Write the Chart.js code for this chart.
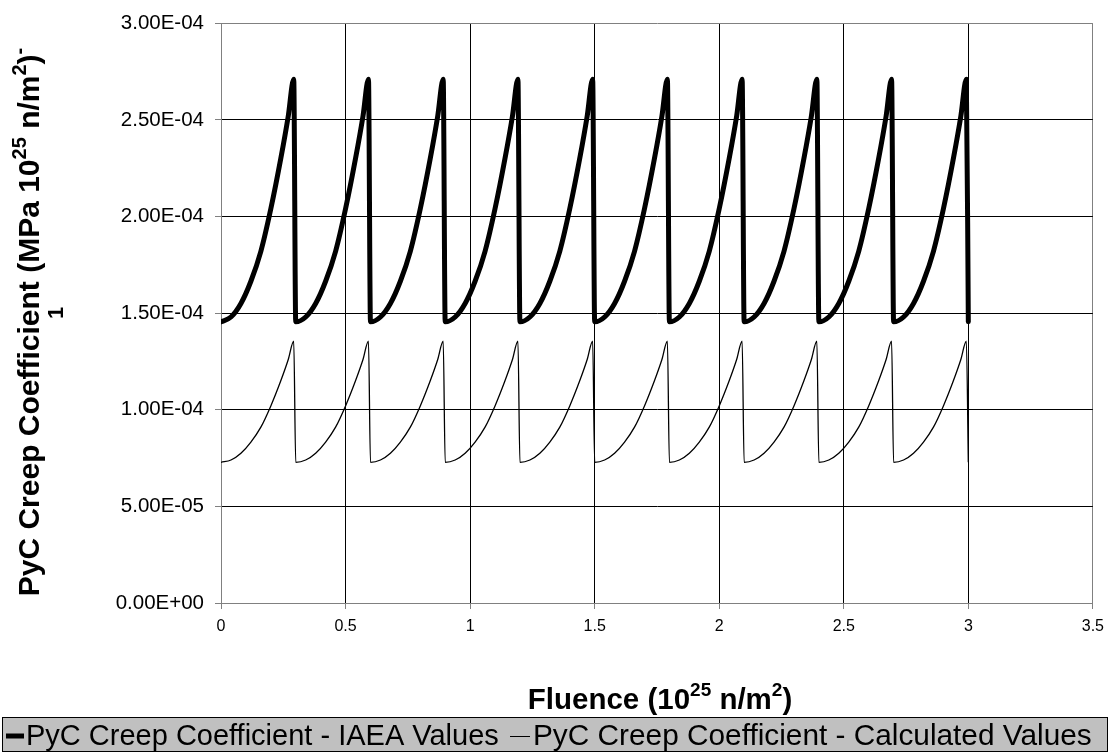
<!DOCTYPE html>
<html lang="en">
<head>
<meta charset="UTF-8">
<title>PyC Creep Coefficient</title>
<script src="https://cdn.jsdelivr.net/npm/chart.js"></script>
<style>
  html, body { margin: 0; padding: 0; background: #fff; }
  #wrap { width: 1112px; height: 752px; }
</style>
</head>
<body>
<div id="wrap"><canvas id="creepChart" width="1112" height="752"></canvas></div>
<script>
// fluence (10^25 n/m^2), one row per irradiation cycle
var fluence = [
  0.0, 0.04, 0.08, 0.12, 0.16, 0.2, 0.24, 0.27, 0.292,
  0.3, 0.34, 0.38, 0.42, 0.46, 0.5, 0.54, 0.57, 0.592,
  0.6, 0.64, 0.68, 0.72, 0.76, 0.8, 0.84, 0.87, 0.892,
  0.9, 0.94, 0.98, 1.02, 1.06, 1.1, 1.14, 1.17, 1.192,
  1.2, 1.24, 1.28, 1.32, 1.36, 1.4, 1.44, 1.47, 1.492,
  1.5, 1.54, 1.58, 1.62, 1.66, 1.7, 1.74, 1.77, 1.792,
  1.8, 1.84, 1.88, 1.92, 1.96, 2.0, 2.04, 2.07, 2.092,
  2.1, 2.14, 2.18, 2.22, 2.26, 2.3, 2.34, 2.37, 2.392,
  2.4, 2.44, 2.48, 2.52, 2.56, 2.6, 2.64, 2.67, 2.692,
  2.7, 2.74, 2.78, 2.82, 2.86, 2.9, 2.94, 2.97, 2.992,
  3.0
];

var iaeaValues = [
  1.455e-4, 1.48e-4, 1.55e-4, 1.665e-4, 1.82e-4, 2.04e-4, 2.30e-4, 2.52e-4, 2.71e-4,
  1.455e-4, 1.48e-4, 1.55e-4, 1.665e-4, 1.82e-4, 2.04e-4, 2.30e-4, 2.52e-4, 2.71e-4,
  1.455e-4, 1.48e-4, 1.55e-4, 1.665e-4, 1.82e-4, 2.04e-4, 2.30e-4, 2.52e-4, 2.71e-4,
  1.455e-4, 1.48e-4, 1.55e-4, 1.665e-4, 1.82e-4, 2.04e-4, 2.30e-4, 2.52e-4, 2.71e-4,
  1.455e-4, 1.48e-4, 1.55e-4, 1.665e-4, 1.82e-4, 2.04e-4, 2.30e-4, 2.52e-4, 2.71e-4,
  1.455e-4, 1.48e-4, 1.55e-4, 1.665e-4, 1.82e-4, 2.04e-4, 2.30e-4, 2.52e-4, 2.71e-4,
  1.455e-4, 1.48e-4, 1.55e-4, 1.665e-4, 1.82e-4, 2.04e-4, 2.30e-4, 2.52e-4, 2.71e-4,
  1.455e-4, 1.48e-4, 1.55e-4, 1.665e-4, 1.82e-4, 2.04e-4, 2.30e-4, 2.52e-4, 2.71e-4,
  1.455e-4, 1.48e-4, 1.55e-4, 1.665e-4, 1.82e-4, 2.04e-4, 2.30e-4, 2.52e-4, 2.71e-4,
  1.455e-4, 1.48e-4, 1.55e-4, 1.665e-4, 1.82e-4, 2.04e-4, 2.30e-4, 2.52e-4, 2.71e-4,
  1.455e-4
];

var calcValues = [
  7.28e-5, 7.4e-5, 7.75e-5, 8.33e-5, 9.1e-5, 1.02e-4, 1.15e-4, 1.26e-4, 1.355e-4,
  7.28e-5, 7.4e-5, 7.75e-5, 8.33e-5, 9.1e-5, 1.02e-4, 1.15e-4, 1.26e-4, 1.355e-4,
  7.28e-5, 7.4e-5, 7.75e-5, 8.33e-5, 9.1e-5, 1.02e-4, 1.15e-4, 1.26e-4, 1.355e-4,
  7.28e-5, 7.4e-5, 7.75e-5, 8.33e-5, 9.1e-5, 1.02e-4, 1.15e-4, 1.26e-4, 1.355e-4,
  7.28e-5, 7.4e-5, 7.75e-5, 8.33e-5, 9.1e-5, 1.02e-4, 1.15e-4, 1.26e-4, 1.355e-4,
  7.28e-5, 7.4e-5, 7.75e-5, 8.33e-5, 9.1e-5, 1.02e-4, 1.15e-4, 1.26e-4, 1.355e-4,
  7.28e-5, 7.4e-5, 7.75e-5, 8.33e-5, 9.1e-5, 1.02e-4, 1.15e-4, 1.26e-4, 1.355e-4,
  7.28e-5, 7.4e-5, 7.75e-5, 8.33e-5, 9.1e-5, 1.02e-4, 1.15e-4, 1.26e-4, 1.355e-4,
  7.28e-5, 7.4e-5, 7.75e-5, 8.33e-5, 9.1e-5, 1.02e-4, 1.15e-4, 1.26e-4, 1.355e-4,
  7.28e-5, 7.4e-5, 7.75e-5, 8.33e-5, 9.1e-5, 1.02e-4, 1.15e-4, 1.26e-4, 1.355e-4,
  7.28e-5
];

var xTickValues = [0, 0.5, 1, 1.5, 2, 2.5, 3, 3.5];
var xTickLabels = ['0', '0.5', '1', '1.5', '2', '2.5', '3', '3.5'];
var yTickValues = [0, 5e-5, 1e-4, 1.5e-4, 2e-4, 2.5e-4, 3e-4];
var yTickLabels = ['0.00E+00', '5.00E-05', '1.00E-04', '1.50E-04', '2.00E-04', '2.50E-04', '3.00E-04'];

var seriesNames = ['PyC Creep Coefficient - IAEA Values', 'PyC Creep Coefficient - Calculated Values'];

var FONT = '"Liberation Sans", Arial, Helvetica, sans-serif';

function toPoints(xs, ys) {
    return xs.map(function (x, i) { return { x: x, y: ys[i] }; });
}

// draws bold text with superscript parts, centred on (cx, cy)
function drawRich(ctx, parts, cx, cy, size) {
    var supSize = Math.round(size * 0.65);
    var total = 0;
    parts.forEach(function (p) {
        ctx.font = 'bold ' + (p.sup ? supSize : size) + 'px ' + FONT;
        p.w = ctx.measureText(p.t).width;
        total += p.w;
    });
    var x = cx - total / 2;
    ctx.textAlign = 'left';
    ctx.textBaseline = 'alphabetic';
    var base = cy + size * 0.36;
    parts.forEach(function (p) {
        ctx.font = 'bold ' + (p.sup ? supSize : size) + 'px ' + FONT;
        ctx.fillText(p.t, x, p.sup ? base - size * 0.42 : base);
        x += p.w;
    });
}

var decorPlugin = {
    id: 'decor',
    afterDraw: function (chart) {
        var ctx = chart.ctx;
        ctx.save();
        ctx.fillStyle = '#000';

        // x axis title
        drawRich(ctx, [
            { t: 'Fluence (10' }, { t: '25', sup: true }, { t: ' n/m' }, { t: '2', sup: true }, { t: ')' }
        ], 660, 698, 29.5);

        // y axis title (wrapped onto two lines, like the original)
        ctx.save();
        ctx.translate(28, 322);
        ctx.rotate(-Math.PI / 2);
        drawRich(ctx, [
            { t: 'PyC Creep Coefficient (MPa 10' }, { t: '25', sup: true }, { t: ' n/m' },
            { t: '2', sup: true }, { t: ')' }, { t: '-', sup: true }
        ], 0, 0, 30);
        ctx.font = 'bold 22px ' + FONT;
        ctx.textAlign = 'center';
        ctx.textBaseline = 'middle';
        ctx.fillText('1', 9, 29);
        ctx.restore();

        // legend box
        ctx.fillStyle = '#c0c0c0';
        ctx.fillRect(2, 717, 1106, 35);
        ctx.strokeStyle = '#000';
        ctx.lineWidth = 1;
        ctx.strokeRect(2.5, 717.5, 1105, 34);

        ctx.strokeStyle = '#000';
        ctx.lineWidth = 5;
        ctx.beginPath(); ctx.moveTo(6, 736); ctx.lineTo(24, 736); ctx.stroke();
        ctx.lineWidth = 1;
        ctx.beginPath(); ctx.moveTo(510, 736.5); ctx.lineTo(530, 736.5); ctx.stroke();

        ctx.fillStyle = '#000';
        ctx.textAlign = 'left';
        ctx.textBaseline = 'middle';
        ctx.font = '29px ' + FONT;
        ctx.fillText(seriesNames[0], 26, 737);
        ctx.font = '29.8px ' + FONT;
        ctx.fillText(seriesNames[1], 533, 737);
        ctx.restore();
    }
};

var ctx = document.getElementById('creepChart').getContext('2d');
var creepChart = new Chart(ctx, {
    type: 'line',
    data: {
        datasets: [{
            label: seriesNames[0],
            data: toPoints(fluence, iaeaValues),
            borderColor: '#000',
            borderWidth: 5,
            pointRadius: 0,
            cubicInterpolationMode: 'monotone',
            borderJoinStyle: 'round',
            borderCapStyle: 'round'
        }, {
            label: seriesNames[1],
            data: toPoints(fluence, calcValues),
            borderColor: '#000',
            borderWidth: 1.3,
            pointRadius: 0,
            cubicInterpolationMode: 'monotone'
        }]
    },
    options: {
        responsive: false,
        animation: false,
        layout: { padding: { left: 0, top: 16, right: 18, bottom: 0 } },
        plugins: {
            legend: { display: false },
            tooltip: { enabled: false }
        },
        scales: {
            x: {
                type: 'linear',
                min: 0,
                max: 3.5,
                afterBuildTicks: function (scale) {
                    scale.ticks = xTickValues.map(function (v) { return { value: v }; });
                },
                afterFit: function (scale) { scale.height = 149; },
                ticks: {
                    color: '#000',
                    font: { family: FONT, size: 16 },
                    padding: 8,
                    maxRotation: 0,
                    callback: function (v, i) { return xTickLabels[i]; }
                },
                grid: {
                    color: function (c) { return c.tick && c.tick.value === 3.5 ? '#808080' : '#000'; },
                    tickColor: '#808080',
                    tickLength: 6,
                    lineWidth: 1
                },
                border: { color: '#808080', width: 1 }
            },
            y: {
                type: 'linear',
                min: 0,
                max: 3e-4,
                afterBuildTicks: function (scale) {
                    scale.ticks = yTickValues.map(function (v) { return { value: v }; });
                },
                afterFit: function (scale) { scale.width = 221; },
                ticks: {
                    color: '#000',
                    font: { family: FONT, size: 20.5 },
                    padding: 11,
                    callback: function (v, i) { return yTickLabels[i]; }
                },
                grid: {
                    color: function (c) { return c.tick && c.tick.value === 3e-4 ? '#808080' : '#000'; },
                    tickColor: '#808080',
                    tickLength: 6,
                    lineWidth: 1
                },
                border: { color: '#808080', width: 1 }
            }
        }
    },
    plugins: [decorPlugin]
});
</script>
</body>
</html>
